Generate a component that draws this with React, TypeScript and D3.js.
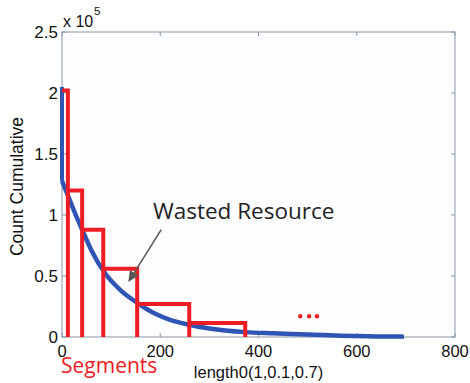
import React from "react";
import * as d3 from "d3";

// ---- data (values in units of 1e5) ----
const peakX = [0, 0];
const peakY = [2.05, 1.28];
const curveX = [0, 8, 16, 28, 41, 60, 88, 120, 153, 190, 220, 259, 300, 373, 430, 486, 567, 640, 696];
const curveY = [1.28, 1.2, 1.12, 1.0, 0.88, 0.71, 0.52, 0.38, 0.28, 0.19, 0.14, 0.1, 0.07, 0.04, 0.03, 0.022, 0.01, 0.005, 0.003];
const segEdges = [0, 12, 41, 84, 153, 259, 373];
const segHeights = [2.02, 1.2, 0.88, 0.56, 0.27, 0.115];
const dotsX = [485, 503, 519];
const dotsY = [0.17, 0.17, 0.17];
const xTicks = [0, 200, 400, 600, 800];
const yTicks = [0, 0.5, 1, 1.5, 2, 2.5];
const yTickLabels = ["0", "0.5", "1", "1.5", "2", "2.5"];
const arrowFrom = [202, 0.88];
const arrowTo = [135, 0.45];
const annotPos = [185, 0.97];
const annotText = "Wasted Resource";
const xLabel = "length0(1,0.1,0.7)";
const yLabel = "Count Cumulative";
const segLabel = "Segments";

const W = 470, H = 383;
const M = { left: 62, right: 15, top: 32, bottom: 46 };

export default function App() {
  const x = d3.scaleLinear().domain([0, 800]).range([M.left, W - M.right]);
  const y = d3.scaleLinear().domain([0, 2.5]).range([H - M.bottom, M.top]);
  const axisColor = "#8797a5";
  const blue = "#2f55b4";
  const red = "#ee1c24";

  const curve = d3
    .line<number>()
    .x((_, i) => x(curveX[i]))
    .y((d) => y(d))
    .curve(d3.curveMonotoneX)(curveY) as string;
  const peak = d3
    .line<number>()
    .x((_, i) => x(peakX[i]))
    .y((d) => y(d))(peakY) as string;

  const segPath = d3.path();
  segHeights.forEach((h, i) => {
    segPath.moveTo(x(segEdges[i]), y(h));
    segPath.lineTo(x(segEdges[i + 1]), y(h));
    segPath.lineTo(x(segEdges[i + 1]), y(0));
  });

  const ax1 = x(arrowFrom[0]), ay1 = y(arrowFrom[1]);
  const ax2 = x(arrowTo[0]), ay2 = y(arrowTo[1]);
  const ang = Math.atan2(ay2 - ay1, ax2 - ax1);
  const hl = 11, hw = 5;
  const bx = ax2 - hl * Math.cos(ang), by = ay2 - hl * Math.sin(ang);
  const head = `M${ax2},${ay2}L${bx + hw * Math.sin(ang)},${by - hw * Math.cos(ang)}L${bx - hw * Math.sin(ang)},${by + hw * Math.cos(ang)}Z`;

  const x0 = x(0), x1 = x(800), y0 = y(0), y1 = y(2.5);
  const tl = 4;
  const tickFont = "'Liberation Sans', Arial, sans-serif";

  return (
    <svg width={W} height={H} style={{ position: "absolute", left: 0, top: 0, background: "#fff" }}>
      <rect x={x0} y={y1} width={x1 - x0} height={y0 - y1} fill="#fdfcfe" />
      {/* ticks */}
      {xTicks.map((t) => (
        <g key={"xt" + t}>
          <line x1={x(t)} x2={x(t)} y1={y0} y2={y0 - tl} stroke={axisColor} />
          <line x1={x(t)} x2={x(t)} y1={y1} y2={y1 + tl} stroke={axisColor} />
          <text x={x(t)} y={y0 + 20} textAnchor="middle" fontSize={16.5} fontFamily={tickFont} fill="#111">
            {t}
          </text>
        </g>
      ))}
      {yTicks.map((t, i) => (
        <g key={"yt" + t}>
          <line x1={x0} x2={x0 + tl} y1={y(t)} y2={y(t)} stroke={axisColor} />
          <line x1={x1} x2={x1 - tl} y1={y(t)} y2={y(t)} stroke={axisColor} />
          <text x={x0 - 4} y={y(t) + 6} textAnchor="end" fontSize={17} fontFamily={tickFont} fill="#111">
            {yTickLabels[i]}
          </text>
        </g>
      ))}
      <rect x={x0} y={y1} width={x1 - x0} height={y0 - y1} fill="none" stroke={axisColor} strokeWidth={1} />
      {/* exponent */}
      <text x={x0 + 1} y={y1 - 5} fontSize={16} fontFamily={tickFont} fill="#111">
        x 10
      </text>
      <text x={x0 + 32} y={y1 - 17} fontSize={11.5} fontFamily={tickFont} fill="#111">
        5
      </text>
      {/* blue curve */}
      <path d={peak} fill="none" stroke={blue} strokeWidth={4} />
      <path d={curve} fill="none" stroke={blue} strokeWidth={4.5} />
      {/* red segments */}
      <path d={segPath.toString()} fill="none" stroke={red} strokeWidth={4} strokeLinejoin="miter" />
      {/* dots */}
      {dotsX.map((d, i) => (
        <circle key={"d" + i} cx={x(d)} cy={y(dotsY[i])} r={2.2} fill={red} />
      ))}
      {/* annotation */}
      <line x1={ax1} y1={ay1} x2={bx} y2={by} stroke="#555" strokeWidth={1.5} />
      <path d={head} fill="#555" />
      <text x={x(annotPos[0])} y={y(annotPos[1])} fontSize={22.5} fontFamily="'Open Sans', sans-serif" fill="#222">
        {annotText}
      </text>
      {/* labels */}
      <text x={x(400)} y={H - 5} textAnchor="middle" fontSize={16.5} fontFamily={tickFont} fill="#111">
        {xLabel}
      </text>
      <text
        transform={`translate(23,${(y0 + y1) / 2 + 2}) rotate(-90)`}
        textAnchor="middle"
        fontSize={17.5}
        fontFamily={tickFont}
        fill="#111"
      >
        {yLabel}
      </text>
      <text x={x0 - 1} y={H - 10} fontSize={21} fontFamily="'Open Sans', sans-serif" fill={red}>
        {segLabel}
      </text>
    </svg>
  );
}
